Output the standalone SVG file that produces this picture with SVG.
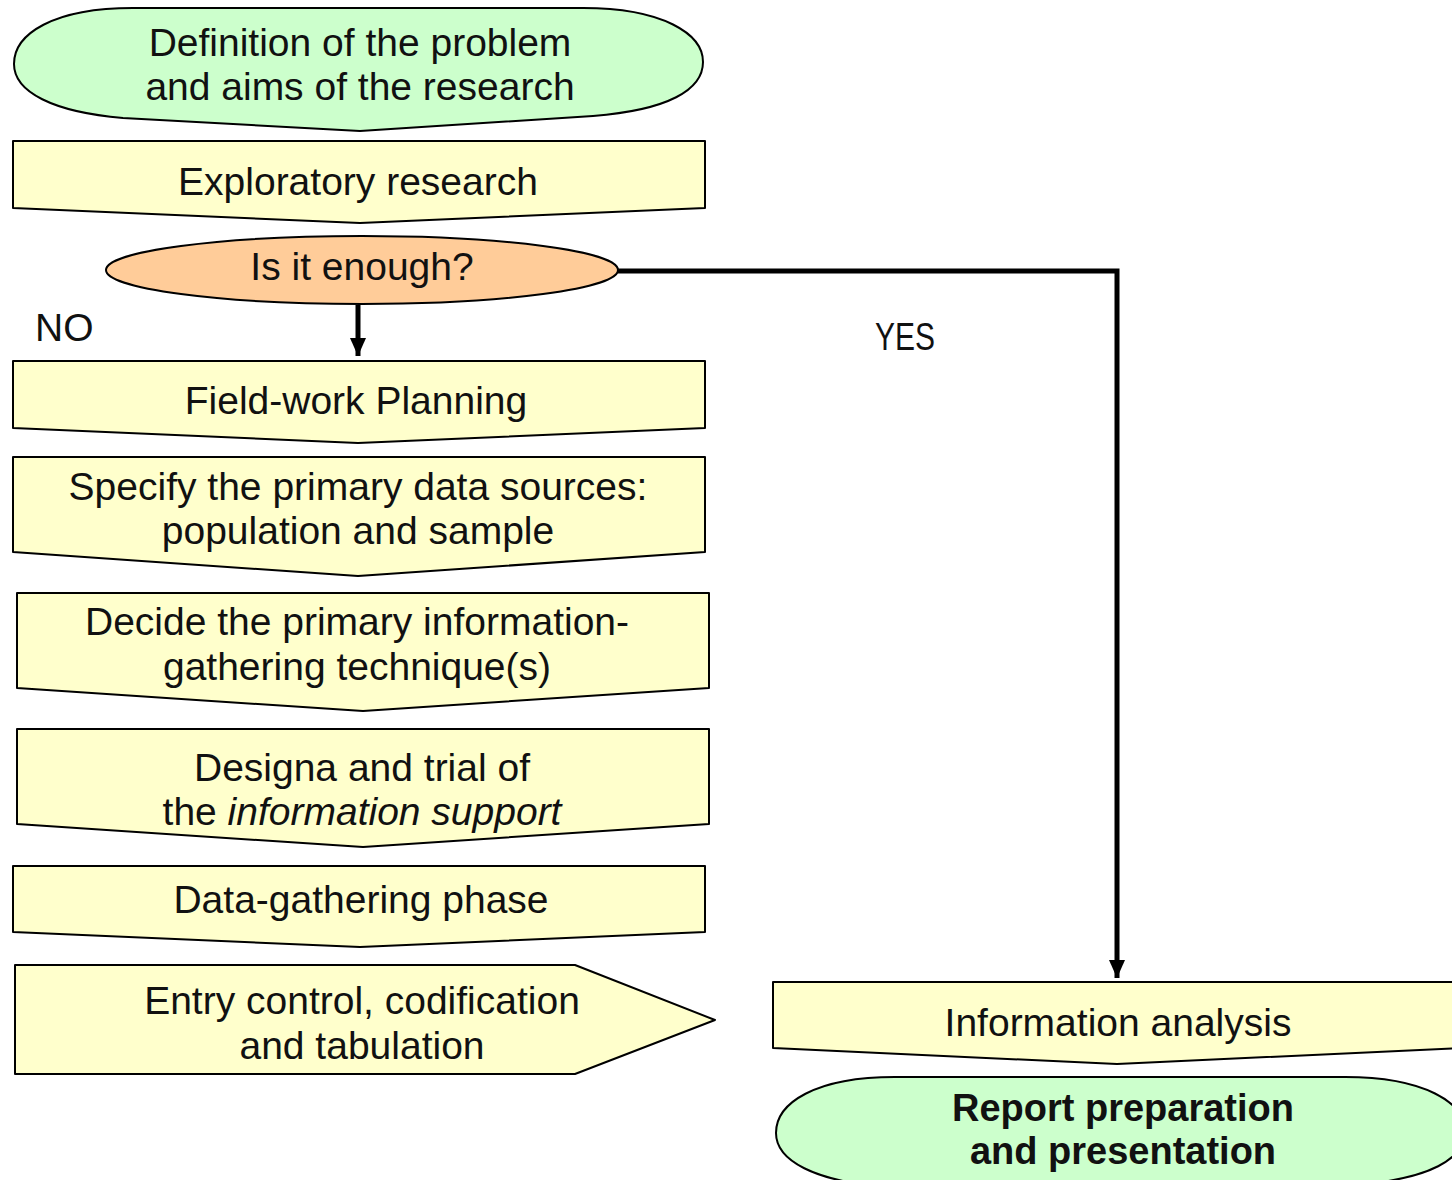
<svg xmlns="http://www.w3.org/2000/svg" width="1452" height="1180" viewBox="0 0 1452 1180">
  <style>
    .step { fill: #FFFFCC; stroke: #000; stroke-width: 2; stroke-linejoin: round; }
    .term { fill: #CCFFCC; stroke: #000; stroke-width: 2; }
    .decision { fill: #FFCC99; stroke: #000; stroke-width: 2; }
    text { font-family: "Liberation Sans", Arial, sans-serif; font-size: 39px; fill: #111; text-anchor: middle; }
    .label { text-anchor: start; }
    .bold { font-weight: bold; font-size: 38px; }
    .wire { fill: none; stroke: #000; stroke-width: 5; stroke-linejoin: miter; }
  </style>
  <defs>
    <marker id="arrow" markerUnits="userSpaceOnUse" markerWidth="20" markerHeight="18" refX="18" refY="8" orient="auto">
      <path d="M0,0 L18,8 L0,16 Z" fill="#000"/>
    </marker>
    <!-- stadium-shaped terminator with a pointed bottom -->
    <path id="termShape" d="M347,123 L110,110 C40,104 1,84 1,56 C1,26 40,0 120,0 L570,0 C650,0 690,26 690,54 C690,82 655,102 580,108 Z"/>
  </defs>

  <g id="connectors">
    <path class="wire" d="M358,305 L358,356" marker-end="url(#arrow)"/>
    <path class="wire" d="M618,271 L1117,271 L1117,978" marker-end="url(#arrow)"/>
  </g>

  <g id="n-definition">
    <use href="#termShape" class="term" transform="translate(13,8)"/>
    <text x="360" y="56">Definition of the problem</text>
    <text x="360" y="100">and aims of the research</text>
  </g>

  <g id="n-exploratory">
    <path class="step" d="M13,141 L705,141 L705,208 L360,223 L13,208 Z"/>
    <text x="358" y="195">Exploratory research</text>
  </g>

  <g id="n-enough">
    <ellipse class="decision" cx="362" cy="270" rx="256" ry="34"/>
    <text x="362" y="280">Is it enough?</text>
  </g>

  <g id="labels">
    <text class="label" x="35" y="341">NO</text>
    <text class="label" x="875" y="350" textLength="60" lengthAdjust="spacingAndGlyphs">YES</text>
  </g>

  <g id="n-fieldwork">
    <path class="step" d="M13,361 L705,361 L705,428 L358,443 L13,428 Z"/>
    <text x="356" y="414">Field-work Planning</text>
  </g>

  <g id="n-sources">
    <path class="step" d="M13,457 L705,457 L705,552 L358,576 L13,552 Z"/>
    <text x="358" y="500">Specify the primary data sources:</text>
    <text x="358" y="544">population and sample</text>
  </g>

  <g id="n-technique">
    <path class="step" d="M17,593 L709,593 L709,688 L363,711 L17,688 Z"/>
    <text x="357" y="635">Decide the primary information-</text>
    <text x="357" y="680">gathering technique(s)</text>
  </g>

  <g id="n-support">
    <path class="step" d="M17,729 L709,729 L709,824 L363,847 L17,824 Z"/>
    <text x="362" y="781">Designa and trial of</text>
    <text x="362" y="825">the <tspan font-style="italic">information support</tspan></text>
  </g>

  <g id="n-gathering">
    <path class="step" d="M13,866 L705,866 L705,932 L360,947 L13,932 Z"/>
    <text x="361" y="913">Data-gathering phase</text>
  </g>

  <g id="n-tabulation">
    <path class="step" d="M15,965 L575,965 L715,1020 L575,1074 L15,1074 Z"/>
    <text x="362" y="1014">Entry control, codification</text>
    <text x="362" y="1059">and tabulation</text>
  </g>

  <g id="n-analysis">
    <path class="step" d="M773,982 L1465,982 L1465,1048 L1117,1064 L773,1048 Z"/>
    <text x="1118" y="1036">Information analysis</text>
  </g>

  <g id="n-report">
    <use href="#termShape" class="term" transform="translate(775,1077)"/>
    <text class="bold" x="1123" y="1121">Report preparation</text>
    <text class="bold" x="1123" y="1164">and presentation</text>
  </g>
</svg>
